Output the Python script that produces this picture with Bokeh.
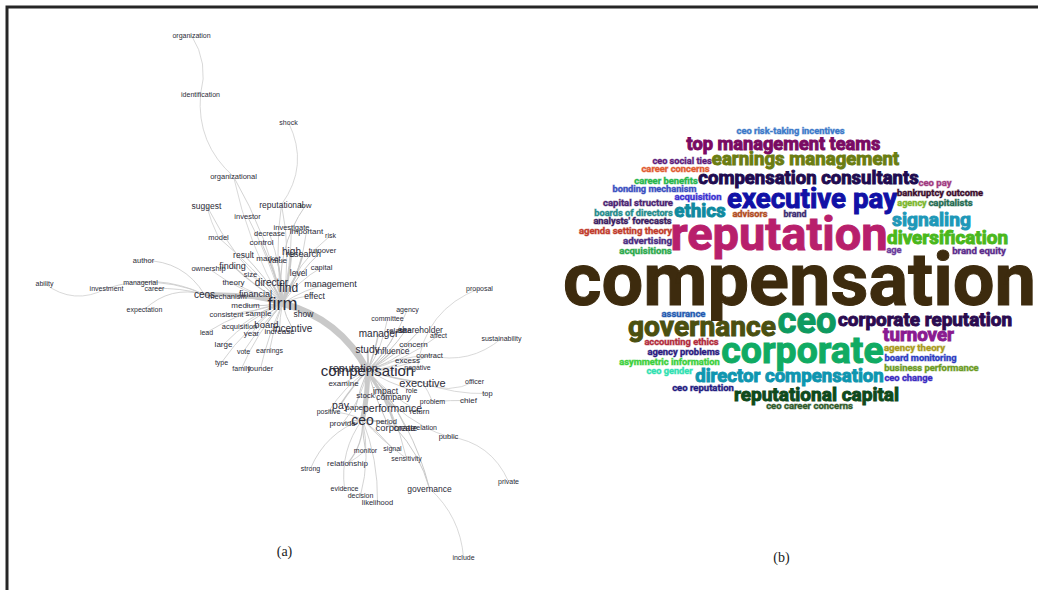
from bokeh.plotting import figure
from bokeh.models import ColumnDataSource
from bokeh.core.properties import value
from bokeh.embed import file_html
from bokeh.resources import INLINE

# ---------- network (a) ----------
node_names = ["organization","identification","shock","organizational","suggest","reputational","low","investor","model","investigate","important","decrease","control","risk","result","market","value","high","research","turnover","author","ownership","finding","size","capital","level","ability","managerial","investment","career","theory","director","find","management","ceos","mechanism","financial","effect","firm","medium","consistent","sample","show","expectation","acquisition","board","incentive","lead","year","increase","large","vote","earnings","type","family","founder",
 "proposal","agency","committee","manager","relate","site","shareholder","affect","sustainability","concern","study","influence","contract","excess","negative","reputation","compensation","examine","executive","officer","top","chief","problem","role","impact","stock","company","pay","paper","performance","return","positive","provide","ceo","period","corporate","create","relation","public","monitor","signal","relationship","sensitivity","strong","evidence","governance","decision","likelihood","private","include"]
node_x = [191,200,288,233,206,281,305,247,218,291,306,269,261,330,243,268,277,291,303,322,143,208,232,250,321,298,44,140,106,154,233,271,288,330,204,227,255,314,282,245,226,258,303,144,239,266,292,206,251,279,223,243,269,221,241,260,
 479,407,387,378,396,405,420,438,501,413,367,392,429,407,417,353,367,343,422,474,487,468,432,411,385,365,393,340,355,392,419,328,342,362,386,395,405,425,448,365,392,347,406,310,344,429,360,377,508,463]
node_y = [35,94,122,176,205,204,205,216,237,227,231,233,242,235,254,258,260,251,253,250,260,268,265,274,267,272,283,282,288,288,282,282,287,283,294,296,293,295,303,305,314,313,313,309,326,324,328,332,333,331,344,351,350,362,368,368,
 288,309,318,333,330,330,329,335,338,344,349,350,355,360,367,367,370,383,382,381,393,400,401,390,390,395,396,404,407,407,411,411,423,419,421,427,427,427,436,450,448,463,458,468,488,488,495,502,481,557]
node_size = [7,7,7,7.5,8.5,8.5,8,7.5,7.5,7.5,8,7.5,8,7,8.5,8,8,10,9,7.5,7.5,7.5,9,7.5,7.5,8.5,7,7,7,7,8,10,12,9,10,7.5,9,8.5,18,8,7.5,8,8.5,7,7.5,9.5,10,7,8,8,8,7,7,7,7,7.5,
 7,7,7,10,8,8,8.5,7,7,8,10,8.5,7.5,8,7,11,15,8,11,7,7.5,8,7,7,8.5,8,8.5,10.5,8,10.5,7.5,7,8,14,7.5,9.5,8.5,7,7.5,7,7,8,7,7,7,8.5,7,7.5,7,7]

# (from, to, weight, bend)
edges_firm = [("firm",t,w,b) for t,w,b in [
 ("organizational",0.8,0.08),("suggest",0.8,-0.1),("reputational",0.8,0.1),("low",1,-0.2),("investor",0.8,0.05),("investigate",0.8,0.05),("important",0.8,0.1),("decrease",0.8,0.08),("control",1,0.05),("risk",0.8,-0.15),("result",1,0.05),("market",1.5,0.05),("value",1.5,0.05),("high",2,0.05),("research",1.5,0.05),("turnover",1,-0.1),("ownership",0.8,-0.1),("finding",1.2,-0.05),("size",0.8,0.03),("capital",0.8,-0.12),("level",1.2,-0.05),("theory",0.8,-0.05),("director",2,0.03),("find",2,0.03),("management",0.8,-0.1),("mechanism",1,0.05),("financial",1,0.05),("effect",0.8,-0.1),("medium",1,-0.05),("consistent",0.8,-0.05),("sample",1,0.05),("show",0.8,-0.1),("acquisition",0.8,0.08),("board",1,0.05),("incentive",1,0.08),("lead",0.8,0.1),("year",0.8,0.1),("increase",0.8,0.05),("large",0.8,0.1),("vote",0.8,0.05),("earnings",0.8,0.05),("type",0.8,0.1),("family",0.8,0.08),("founder",0.8,0.05),("model",0.8,0.05)]]
edges_hub = [("firm","ceos",4,0.08),("firm","compensation",6.5,-0.22),("compensation","ceo",5,-0.06),("ceo","corporate",1.5,-0.1)]
edges_comp = [("compensation",t,w,b) for t,w,b in [
 ("agency",0.8,0.1),("committee",0.8,0.1),("manager",1.5,0.05),("relate",1,0.1),("site",1,0.08),("shareholder",1,0.1),("affect",0.8,0.1),("concern",0.8,0.1),("study",2,0.05),("influence",1.2,0.08),("contract",0.8,0.1),("excess",0.8,0.08),("negative",0.8,0.05),("reputation",2,0.03),("examine",1,0.03),("executive",1.5,0.05),("role",0.8,0.05),("impact",1,0.05),("stock",1,0.05),("company",1,0.08),("pay",1.5,0.05),("paper",1,0.05),("performance",3,0.05),("return",0.8,0.1),("positive",0.8,0.1),("provide",0.8,-0.12),("period",1,0.05),("corporate",2,-0.08),("create",1,-0.08),("relation",0.8,0.15),("sensitivity",0.8,-0.1),("governance",1,-0.12)]]
edges_ceo = [("ceo",t,w,b) for t,w,b in [
 ("monitor",1,0.05),("signal",1,-0.05),("relationship",1.2,-0.2),("strong",0.8,0.22),("evidence",0.8,0.2),("decision",0.8,-0.12),("likelihood",0.8,-0.1),("provide",1,0.05),("positive",0.8,0.1),("period",1,0.05),("sensitivity",0.8,0.05)]]
edges_chain = [("organization","identification",0.7,-0.22),("identification","organizational",0.7,0.25),("organizational","firm",0.7,0.08),
 ("shock","reputational",0.7,-0.3),("reputational","firm",0.8,0.08),("ability","investment",0.7,0.32),("investment","ceos",0.8,-0.2),
 ("author","ceos",0.8,-0.28),("managerial","ceos",0.8,-0.12),("career","ceos",0.8,-0.08),("expectation","ceos",0.8,-0.28),("suggest","model",0.7,0.05),
 ("proposal","negative",0.7,0.3),("sustainability","contract",0.7,-0.25),("contract","compensation",0.8,0.1),("officer","executive",0.7,-0.25),("top","executive",0.7,-0.1),("chief","problem",0.8,0.02),("problem","executive",0.7,0.05),
 ("public","private",0.7,-0.28),("relation","public",0.7,0.05),("governance","include",0.7,-0.2),("corporate","governance",1,-0.12),("relationship","monitor",0.7,0.05)]
edges = edges_firm + edges_hub + edges_comp + edges_ceo + edges_chain

caption_words = ["(a)","(b)"]
caption_x = [284,781]
caption_y = [551,557]

# ---------- word cloud (b) ----------
cloud_words = ["compensation","reputation","corporate","executive pay","governance","ceo","director compensation","top management teams","earnings management","compensation consultants","corporate reputation","reputational capital","diversification","signaling","turnover","ethics",
 "ceo risk-taking incentives","ceo social ties","career concerns","career benefits","bonding mechanism","ceo pay","bankruptcy outcome","acquisition","capital structure","agency","capitalists","boards of directors","advisors","brand","analysts' forecasts","agenda setting theory","advertising","age","brand equity","acquisitions","assurance","accounting ethics","agency theory","agency problems","board monitoring","asymmetric information","business performance","ceo gender","ceo change","ceo reputation","ceo career concerns"]
cloud_left = [563,671,721,727,628,777,695,686,712,698,838,734,887,892,883,674,737,652,641,634,612,918,897,674,603,897,928,594,732,783,593,579,623,886,952,619,661,644,884,647,884,619,884,646,884,672,766]
cloud_right = [1035,886,883,896,775,836,883,880,898,918,1011,898,1007,970,953,725,843,711,709,697,696,951,982,721,672,926,972,672,767,806,671,671,671,901,1005,671,705,718,944,719,956,719,978,692,932,733,852]
cloud_y = [284,236,352,200,328,323,377,144,160,179,320,395,238,220,336,212,131,161,169,181,189,183,193,197,203,203,203,213,214,214,221,231,241,250,251,251,314,342,348,352,358,362,368,371,378,388,406]
cloud_colors = ["#3d2b0e","#b81f6c","#10ab63","#1111a6","#4b5010","#0e9a60","#0f96b0","#7a0b63","#6b7d12","#200b50","#2b0b50","#0f4a1c","#4ab81c","#1f98b8","#8a1b90","#0f8a9f",
 "#3a78c8","#5c1a7a","#e05a30","#25b54a","#3a4fc0","#a03a80","#3a0a2a","#3a30d0","#4a1f70","#7ab52a","#1f6a4f","#1f8a8a","#b04a20","#3a2a70","#3a1a60","#c03a2a","#4a2a80","#6a3a9a","#5a2a8a","#2aa84a","#1f5ab0","#b02a3a","#a89a1a","#2a1a80","#2a3ac0","#3acf3a","#6a9a1f","#2fe0b0","#3a2ac0","#1f1a80","#2f5a2a"]

# Roboto Bold advance widths, em/1000
W = dict(zip("abcdefghijklmnopqrstuvwxyz -'", [537,561,523,563,533,347,564,553,258,253,520,258,876,554,570,561,570,356,516,327,553,496,743,505,487,506,249,278,170]))
def em(word):
    return sum(W[c] for c in word) / 1000

p = figure(width=1038, height=590, x_range=(0,1038), y_range=(590,0), output_backend="svg",
           toolbar_location=None, min_border=0, background_fill_color="white", border_fill_color="white",
           outline_line_color=None)
p.axis.visible = False
p.grid.visible = False

# frame
p.line(x=[6.5,6.5,1038], y=[590,6.5,6.5], line_color="#262626", line_width=3, line_join="miter")

pos = {n:(x,y) for n,x,y in zip(node_names,node_x,node_y)}
e = dict(x0=[],y0=[],x1=[],y1=[],cx=[],cy=[],w=[])
for a,b,w,bend in edges:
    xa,ya = pos[a]; xb,yb = pos[b]
    e["x0"].append(xa); e["y0"].append(ya); e["x1"].append(xb); e["y1"].append(yb)
    e["cx"].append((xa+xb)/2 - bend*(yb-ya)); e["cy"].append((ya+yb)/2 + bend*(xb-xa))
    e["w"].append(w)
p.quadratic(x0="x0",y0="y0",x1="x1",y1="y1",cx="cx",cy="cy",line_width="w",line_color="#c9c9c9",source=ColumnDataSource(e))

p.text(x=node_x,y=node_y,text=node_names,text_font=value("Liberation Sans"),
       text_font_size=[f"{s:.1f}px" for s in node_size],text_color="#2b2b38",
       text_align="center",text_baseline="middle")
p.text(x=caption_x,y=caption_y,text=caption_words,text_font=value("Liberation Serif"),
       text_font_size="14px",text_color="#222222",text_align="center",text_baseline="middle")

sizes = [(r-l)/em(w) for w,l,r in zip(cloud_words,cloud_left,cloud_right)]
src = ColumnDataSource(dict(
    x=[(l+r)/2 for l,r in zip(cloud_left,cloud_right)],
    y=[y-0.07*s for y,s in zip(cloud_y,sizes)],
    t=cloud_words, fs=[f"{s:.1f}px" for s in sizes], c=cloud_colors,
    oc=[c if s>14 else c+"70" for c,s in zip(cloud_colors,sizes)]))
p.text(x="x",y="y",text="t",text_font=value("Roboto"),text_font_style="bold",
       text_font_size="fs",text_color="c",outline_color="oc",text_align="center",text_baseline="alphabetic",source=src)

open("out.html","w").write(file_html(p, INLINE))
